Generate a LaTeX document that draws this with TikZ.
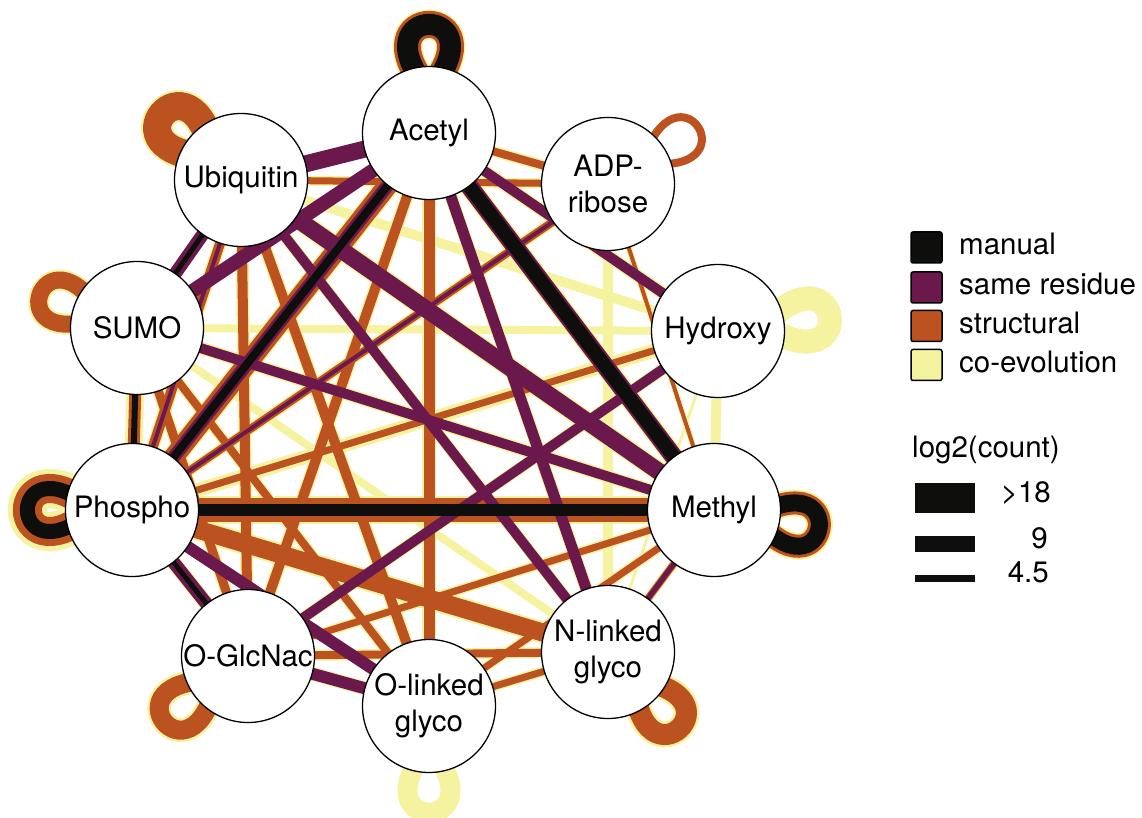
\documentclass[tikz,border=0pt]{standalone}
\usepackage{fontspec}
\setmainfont{TeX Gyre Heros}
\pgfdeclarelayer{edges}
\pgfsetlayers{edges,main}
\definecolor{cY}{HTML}{F6F3A0}
\definecolor{cO}{HTML}{BB5220}
\definecolor{cP}{HTML}{6B194D}
\definecolor{cB}{HTML}{0E0E0C}
\begin{document}
\begin{tikzpicture}[x=1pt,y=1pt,
  ptm/.style={circle,draw=black,line width=1.3pt,fill=white,minimum size=133pt,inner sep=0pt,align=center,font=\fontsize{29.5}{36}\selectfont},
  ye/.style={draw=cY},oe/.style={draw=cO},pe/.style={draw=cP},be/.style={draw=cB},
  lgbox/.style={draw=black,line width=1.5pt,rounded corners=2pt,minimum size=31pt,inner sep=0pt},
  lgtxt/.style={inner sep=0pt,font=\fontsize{29.5}{36}\selectfont},
  wbar/.style={fill=cB,minimum width=60pt,inner sep=0pt}]
\useasboundingbox (0,0) rectangle (1142,817);
% nodes
\node[ptm] (ac)  at (429,684) {Acetyl};
\node[ptm] (adp) at (608,633) {ADP-\\ribose};
\node[ptm] (hy)  at (718,486) {Hydroxy};
\node[ptm] (me)  at (714,307) {Methyl};
\node[ptm] (nl)  at (608,165) {N-linked\\glyco};
\node[ptm] (ol)  at (429,111) {O-linked\\glyco};
\node[ptm] (og)  at (248,161) {O-GlcNac};
\node[ptm] (ph)  at (132,307) {Phospho};
\node[ptm] (su)  at (137,489) {SUMO};
\node[ptm] (ub)  at (241,637) {Ubiquitin};
% loop anchor points (inside the nodes)
\foreach \n/\d/\r in {ac/90/42,ub/140/36,su/161/36,ph/180/38,og/218/40,ol/270/40,nl/313/38,me/350/40,hy/7/46,adp/32/40}
  {\path (\n.center) ++(\d:\r) coordinate (\n-lp);}
\begin{pgfonlayer}{edges}
% co-evolution
\foreach \a/\b/\w in {ph/me/28,ph/ac/23,ph/su/18,ph/nl/22,ph/hy/14,ph/adp/11,ph/ub/13,ph/ol/3,
  su/hy/8,su/nl/8,su/ol/11,su/og/12,su/me/13,ub/adp/10,ub/hy/10,ub/me/20,ub/nl/12,ub/ol/13,ub/og/13,
  ac/adp/11,ac/hy/13,ac/me/21,ac/nl/13,ac/ol/14,ac/og/13,adp/me/6,adp/nl/10,hy/me/10,hy/nl/3,hy/og/12,
  me/nl/9,me/ol/10,me/og/10,nl/ol/10,nl/og/11,og/ol/14,ph/og/15}
  {\draw[ye,line width=\w*1pt] (\a.center) -- (\b.center);}
\foreach \n/\d/\w in {ac/90/30,ub/140/32,su/161/21,ph/180/39,og/218/24,ol/270/20,nl/313/26,me/350/27,hy/7/24}
  {\draw[ye,line width=\w*1pt] (\n-lp) .. controls +({\d-40}:116) and +({\d+40}:116) .. (\n-lp);}
% structural
\foreach \a/\b/\w in {ph/me/24,ph/ac/20,ph/su/12,ph/nl/18,ph/hy/7,ph/adp/8,ph/ub/10,
  su/ol/8,su/og/9,ub/adp/7,ub/ol/10,ub/og/10,ac/adp/8,ac/ol/11,ac/og/10,adp/me/4,
  me/nl/7,me/ol/7,me/og/7,nl/ol/7,nl/og/8}
  {\draw[oe,line width=\w*1pt] (\a.center) -- (\b.center);}
\foreach \n/\d/\w in {ac/90/27,ub/140/28,su/161/17,ph/180/29,og/218/19,nl/313/21,me/350/23,adp/32/8}
  {\draw[oe,line width=\w*1pt] (\n-lp) .. controls +({\d-40}:116) and +({\d+40}:116) .. (\n-lp);}
% same residue
\foreach \a/\b/\w in {ph/ac/13,ph/og/13,ph/ol/12,ph/adp/4,ph/ub/4,su/ac/14,su/ub/13,su/me/10,
  ub/ac/17,ub/me/17,ub/nl/10,ac/hy/10,ac/me/18,ac/nl/11,hy/og/10,me/nl/5,og/ol/12}
  {\draw[pe,line width=\w*1pt] (\a.center) -- (\b.center);}
% manual
\foreach \a/\b/\w in {ph/me/12,ph/ac/8,ph/su/6,ph/og/5,su/ub/5,ac/me/14}
  {\draw[be,line width=\w*1pt] (\a.center) -- (\b.center);}
\foreach \n/\d/\w in {ac/90/21,ph/180/15,me/350/17}
  {\draw[be,line width=\w*1pt] (\n-lp) .. controls +({\d-40}:116) and +({\d+40}:116) .. (\n-lp);}
\end{pgfonlayer}
% legend
\node[lgbox,fill=cB] (k1) at (926.5,569.5) {};
\node[lgbox,fill=cP] (k2) at (926.5,529.5) {};
\node[lgbox,fill=cO] (k3) at (926.5,491) {};
\node[lgbox,fill=cY] (k4) at (926.5,452) {};
\node[lgtxt,anchor=base west] (t1) at (959,562) {manual};
\node[lgtxt,anchor=base west] (t2) at (959,522) {same residue};
\node[lgtxt,anchor=base west] (t3) at (959,483) {structural};
\node[lgtxt,anchor=base west] (t4) at (959,444) {co-evolution};
\node[lgtxt,anchor=base west] (lt) at (912,359) {log2(count)};
\node[wbar,minimum height=30pt] (w1) at (945,319) {};
\node[wbar,minimum height=16pt] (w2) at (945,273) {};
\node[wbar,minimum height=7.5pt] (w3) at (945,238.5) {};
\node[lgtxt,anchor=base east] (v1) at (1051,314) {>18};
\node[lgtxt,anchor=base east] (v2) at (1048,269) {9};
\node[lgtxt,anchor=base east] (v3) at (1049,235) {4.5};
\end{tikzpicture}
\end{document}
